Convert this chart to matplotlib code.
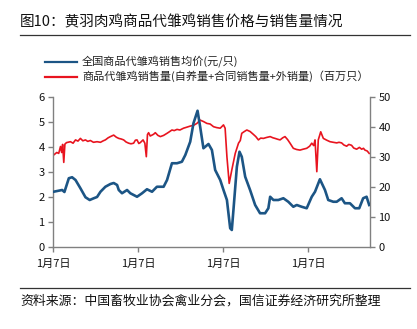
import matplotlib
matplotlib.use("Agg")
import matplotlib.pyplot as plt
from matplotlib.lines import Line2D

plt.rcParams['font.family'] = ['Noto Sans CJK SC', 'DejaVu Sans']

# weeks counted from the first 1月7日
price_weeks = [0, 5.3, 6.7, 9.4, 11.4, 13.5, 16.5, 19.6, 22.2, 24.7, 26.7, 28.8, 31.8,
               34.9, 36.9, 39.0, 40.0, 42.0, 45.1, 47.1, 51.2, 54.3, 57.3, 60.4, 63.4,
               67.5, 69.6, 72.6, 75.7, 78.7, 80.8, 83.8, 85.8, 88.3, 89.9, 91.9, 95.0,
               97.1, 99.1, 102.2, 104.2, 106.3, 108.3, 109.3, 110.3, 112.4, 114.0, 115.4,
               117.5, 120.5, 123.6, 126.6, 129.7, 131.7, 132.8, 134.8, 137.8, 140.9,
               143.9, 147.0, 149.1, 152.1, 155.2, 158.3, 160.3, 163.3, 166.4, 168.4,
               171.5, 173.6, 176.6, 178.6, 181.7, 184.8, 187.4, 189.8, 191.9, 193.5]
price = [2.21, 2.28, 2.2, 2.75, 2.79, 2.68, 2.35, 1.99, 1.88, 1.95, 2.0, 2.21, 2.41,
         2.52, 2.56, 2.48, 2.28, 2.15, 2.28, 2.15, 2.01, 2.15, 2.31, 2.21, 2.41,
         2.41, 2.68, 3.35, 3.35, 3.41, 3.68, 4.21, 4.95, 5.45, 4.81, 3.95, 4.12,
         3.88, 3.08, 2.68, 2.28, 1.88, 0.75, 0.68, 1.48, 3.21, 3.81, 3.61,
         2.81, 2.28, 1.68, 1.35, 1.35, 1.55, 2.01, 1.88, 1.88, 1.95,
         1.81, 1.61, 1.68, 1.61, 1.55, 2.01, 2.21, 2.71, 2.28, 1.88,
         1.81, 1.81, 1.95, 1.75, 1.75, 1.55, 1.55, 1.95, 2.01, 1.68]

volume_weeks = [0.2, 2.0, 3.2, 4.3, 5.0, 5.6, 6.3, 7.0, 8.0, 10.4, 12.0, 13.5, 15.0,
                16.5, 18.0, 19.6, 21.0, 22.6, 24.5, 26.7, 28.8, 30.5, 31.8, 33.5,
                34.9, 36.9, 38.5, 40.0, 41.5, 43.0, 44.5, 46.1, 47.5, 49.1, 50.2,
                51.2, 52.3, 53.2, 54.9, 56.0, 56.9, 57.6, 58.3, 59.3, 60.4, 61.4,
                62.4, 64.0, 65.5, 67.5, 69.6, 71.0, 72.6, 74.0, 75.7, 77.5, 79.7,
                81.5, 83.8, 86.0, 87.9, 89.9, 92.0, 94.0, 96.0, 98.1, 100.0, 102.2,
                104.2, 105.2, 106.3, 107.7, 109.3, 111.4, 113.4, 114.5, 115.4, 117.0,
                118.5, 120.5, 122.6, 124.0, 125.6, 127.0, 128.7, 130.5, 132.8, 134.5,
                135.8, 137.5, 138.9, 140.5, 141.9, 143.5, 145.0, 147.0, 149.0, 151.1,
                153.0, 155.2, 157.0, 158.3, 159.5, 160.3, 161.4, 162.3, 163.8, 165.4,
                167.5, 169.5, 171.5, 173.6, 175.0, 176.6, 178.0, 179.7, 181.0, 182.7,
                184.0, 185.8, 187.5, 188.9, 190.0, 190.9, 192.3, 193.5]
volume = [30.7, 31.5, 31.2, 33.5, 31.5, 34.2, 28.2, 34.3, 34.8, 35.1, 34.6, 35.7, 35.3,
          36.2, 35.4, 35.7, 35.2, 35.5, 34.9, 35.1, 34.9, 35.4, 35.7, 36.4,
          36.8, 37.3, 36.6, 36.2, 36.0, 35.7, 35.0, 34.6, 34.4, 34.6, 35.6,
          35.7, 34.5, 34.8, 35.7, 34.6, 30.1, 37.5, 38.1, 37.0, 37.3, 37.6,
          38.1, 37.2, 36.8, 37.2, 37.9, 38.4, 39.0, 38.8, 39.2, 39.0, 39.6,
          39.9, 40.3, 40.6, 41.2, 42.3, 41.8, 41.2, 41.0, 40.1, 39.8, 39.6,
          40.7, 39.6, 30.1, 21.2, 25.7, 31.2, 34.6, 35.5, 37.9, 38.5,
          39.0, 38.5, 37.5, 36.8, 35.7, 36.3, 36.2, 36.5, 36.8, 36.4,
          36.2, 35.9, 35.7, 36.4, 36.8, 35.8, 34.6, 32.9, 32.5, 32.3,
          32.6, 32.9, 33.6, 34.6, 33.8, 35.7, 25.1, 35.7, 38.4, 36.2,
          35.6, 35.1, 34.9, 34.7, 34.9, 34.7, 34.0, 33.6, 34.2, 33.9,
          33.0, 32.6, 33.2, 32.6, 32.9, 32.3, 32.0, 31.2]

tick_weeks = [0, 52, 104, 156]
tick_labels = ['1月7日'] * 4

price_color = '#1c5585'
volume_color = '#e8141f'
axis_color = '#808080'

fig = plt.figure(figsize=(4.17, 3.29), dpi=100)
ax = fig.add_axes([53 / 417, 1 - 247 / 329, 317 / 417, 150 / 329])
ax2 = ax.twinx()

ax.plot(price_weeks, price, color=price_color, linewidth=1.9, zorder=3)
ax2.plot(volume_weeks, volume, color=volume_color, linewidth=1.2, zorder=2)
ax.set_zorder(ax2.get_zorder() + 1)
ax.patch.set_visible(False)

ax.set_xlim(-0.3, 194)
ax.set_ylim(0, 6)
ax2.set_ylim(0, 50)
ax.set_yticks(range(0, 7))
ax2.set_yticks(range(0, 51, 10))
ax.set_xticks(tick_weeks)
ax.set_xticklabels(tick_labels)

for a in (ax, ax2):
    a.spines['top'].set_visible(False)
    for sp in ('left', 'right', 'bottom'):
        a.spines[sp].set_color(axis_color)
        a.spines[sp].set_linewidth(1.0)
    a.tick_params(colors=axis_color, labelcolor='#111111', labelsize=8,
                  length=3.5, width=1.0, direction='out', pad=2.5)
ax.tick_params(axis='x', pad=5)
ax.spines['right'].set_visible(False)
ax2.spines['left'].set_visible(False)
ax2.spines['bottom'].set_visible(False)

# title, legend and source note
fig.text(20 / 417, 1 - 22 / 329, '图10：黄羽肉鸡商品代雏鸡销售价格与销售量情况',
         fontsize=10.5, va='center', ha='left', color='#111111')
fig.add_artist(Line2D([20 / 417, 410 / 417], [1 - 34.5 / 329] * 2,
                      color='#333333', linewidth=0.9))

legend_items = [('全国商品代雏鸡销售均价(元/只)', price_color, 61.5),
                ('商品代雏鸡销售量(自养量+合同销售量+外销量)（百万只）', volume_color, 76.5)]
for label, color, y in legend_items:
    fig.add_artist(Line2D([45 / 417, 77 / 417], [1 - y / 329] * 2,
                          color=color, linewidth=1.6))
    fig.text(82 / 417, 1 - y / 329, label, fontsize=8, va='center', ha='left',
             color='#222222')

fig.add_artist(Line2D([20 / 417, 410 / 417], [1 - 288 / 329] * 2,
                      color='#333333', linewidth=0.9))
fig.text(20 / 417, 1 - 301.5 / 329, '资料来源：中国畜牧业协会禽业分会，国信证券经济研究所整理',
         fontsize=9.3, va='center', ha='left', color='#111111')

fig.savefig('out.png', dpi=100)
